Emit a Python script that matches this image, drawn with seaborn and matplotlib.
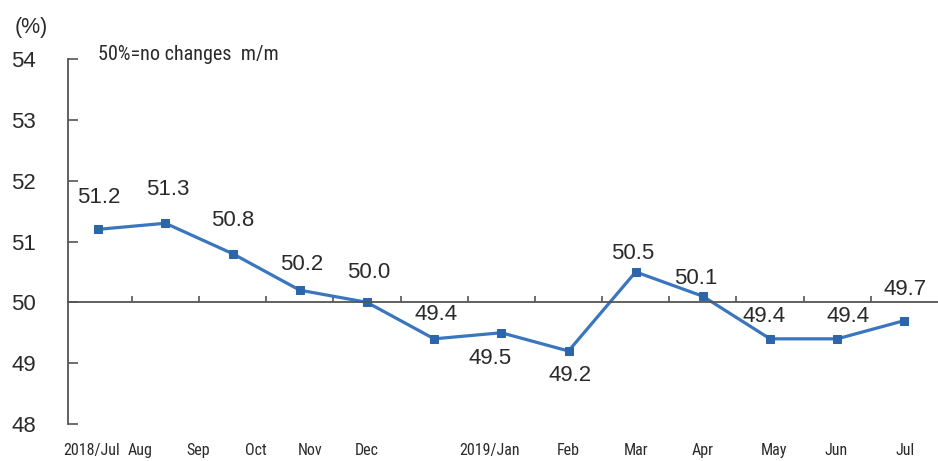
import numpy as np
import pandas as pd
import matplotlib
matplotlib.use("Agg")
import matplotlib.pyplot as plt
import matplotlib.transforms as mtransforms
from matplotlib import font_manager
import seaborn as sns

# ---- data ----
months = ["2018/Jul", "Aug", "Sep", "Oct", "Nov", "Dec", "2019/Jan",
          "Feb", "Mar", "Apr", "May", "Jun", "Jul"]
pmi = [51.2, 51.3, 50.8, 50.2, 50.0, 49.4, 49.5, 49.2, 50.5, 50.1, 49.4, 49.4, 49.7]
yticks = [48, 49, 50, 51, 52, 53, 54]

# ---- layout (label placement, pixels / data-x) ----
label_offsets = [(1, 32), (2, 34), (0, 33), (2, 26), (2, 30), (2, 24), (-11, -26),
                 (2, -24), (-3, 18), (-7, 18), (-6, 22), (11, 22), (1, 31)]
xlabel_pos = [-0.10, 0.63, 1.49, 2.35, 3.15, 3.99, 5.83, 7.0, 8.0, 9.0, 10.06, 10.98, 12.01]

sns.set_style("white")
plt.rcParams["font.family"] = ["Liberation Sans", "DejaVu Sans"]

# condensed font for small texts, if any is installed
narrow_fp = None
for f in font_manager.fontManager.ttflist:
    low = f.fname.lower()
    if ("narrow" in low or "condensed" in low) and f.weight in (400, "normal") and f.style == "normal":
        if "bold" in low or "oblique" in low or "italic" in low:
            continue
        narrow_fp = f.fname
        if "liberation" in low:
            break

def small_font(size):
    if narrow_fp:
        return font_manager.FontProperties(fname=narrow_fp, size=size)
    return font_manager.FontProperties(family="Liberation Sans", size=size * 0.85)

df = pd.DataFrame({"x": np.arange(len(months)), "pmi": pmi})

fig = plt.figure(figsize=(9.38, 4.61), dpi=100)
ax = fig.add_axes([68 / 938, 1 - 424 / 461, (938 - 68) / 938, (424 - 59) / 461])

sns.lineplot(data=df, x="x", y="pmi", ax=ax, color="#3a76bd", linewidth=2.3,
             marker="s", markersize=5.5, markerfacecolor="#2d65ab",
             markeredgecolor="#2d65ab")

ax.set_xlim(-0.45, 12.5)
ax.set_ylim(48, 54)
ax.set_yticks(yticks)
ax.set_yticklabels([str(v) for v in yticks], fontsize=16, color="#2a2a2a")
ax.tick_params(axis="y", left=True, direction="in", length=7, width=1.2, pad=23,
               colors="#555555", labelcolor="#2a2a2a")

for s in ["top", "right"]:
    ax.spines[s].set_visible(False)
ax.spines["left"].set_color("#555555")
ax.spines["left"].set_linewidth(1.3)
ax.spines["bottom"].set_position(("data", 50))
ax.spines["bottom"].set_color("#555555")
ax.spines["bottom"].set_linewidth(1.3)

ax.set_xticks(np.arange(len(months) - 1) + 0.5)
ax.set_xticklabels([])
ax.tick_params(axis="x", bottom=True, direction="in", length=4, width=1.2, colors="#555555")
ax.set_xlabel("")
ax.set_ylabel("")

trans = mtransforms.blended_transform_factory(ax.transData, fig.transFigure)
for xp, lab in zip(xlabel_pos, months):
    ax.text(xp, 1 - 450 / 461, lab, transform=trans, ha="center", va="center",
            fontproperties=small_font(11.5), color="#2a2a2a")

for i, (v, off) in enumerate(zip(pmi, label_offsets)):
    ax.annotate(f"{v:.1f}", (i, v), xytext=off, textcoords="offset pixels",
                ha="center", va="center", fontsize=16, color="#2a2a2a")

fig.text(31 / 938, 1 - 27 / 461, "(%)", ha="center", va="center", fontsize=15.5, color="#2a2a2a")
fig.text(98 / 938, 1 - 54 / 461, "50%=no changes  m/m", ha="left", va="center",
         fontproperties=small_font(14.5), color="#2a2a2a")

fig.savefig("out.png", dpi=100)
